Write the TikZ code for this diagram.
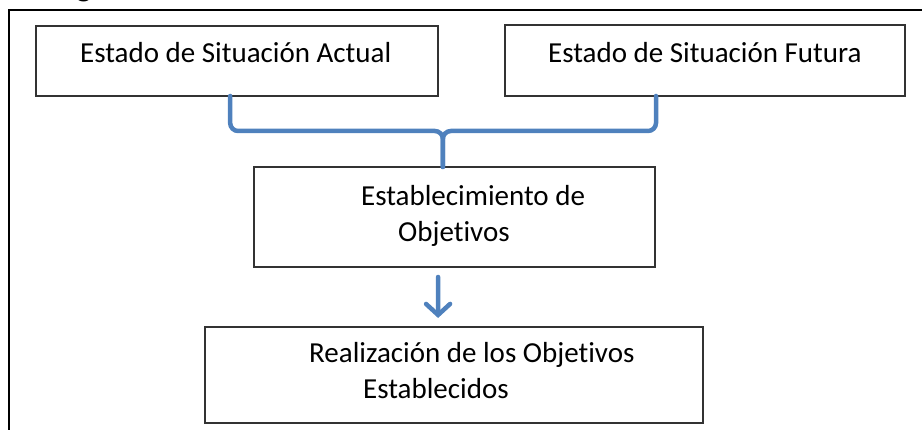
\documentclass[tikz,border=0pt]{standalone}
\usepackage{fontspec}
\setmainfont[Ligatures=NoCommon]{Carlito}
\usetikzlibrary{calc,arrows.meta}
\definecolor{azulllave}{HTML}{4F81BD}

\begin{document}
\begin{tikzpicture}[x=1pt,y=-1pt,
    caja/.style={draw=black!80, line width=1.4pt, inner sep=0pt, outer sep=0pt},
    texto/.style={anchor=base west, inner sep=0pt, font=\fontsize{29}{35}\selectfont},
    llave/.style={draw=azulllave, line width=4.5pt, rounded corners=8pt, line cap=round},
    flecha/.style={draw=azulllave, line width=4.5pt, line cap=round,
        -{Straight Barb[length=11pt,width=24pt,line cap=round]}}]
    \useasboundingbox (0,0) rectangle (922,430);

    % marco exterior
    \draw[line width=1.8pt] (9,440) -- (9,10) -- (930,10);
    \node[anchor=base, inner sep=0pt, font=\bfseries\fontsize{32}{32}\selectfont] (tfrag) at (84,-3) {g};

    % cajas
    \node[caja, minimum width=402pt, minimum height=70pt] (actual) at (237,61) {};
    \node[caja, minimum width=400pt, minimum height=71pt] (futura) at (705,60.5) {};
    \node[caja, minimum width=401pt, minimum height=100pt] (establec) at (454.5,217) {};
    \node[caja, minimum width=498pt, minimum height=96pt] (realiz) at (454,375) {};

    % textos
    \node[texto] (tActual) at (80,63) {Estado de Situación Actual};
    \node[texto] (tFutura) at (548,63) {Estado de Situación Futura};
    \node[texto] (tEstab1) at (361,206) {Establecimiento de};
    \node[texto] (tEstab2) at (398,242) {Objetivos};
    \node[texto] (tRealiz1) at (309,363) {Realización de los Objetivos};
    \node[texto] (tRealiz2) at (363,399) {Establecidos};

    % llave
    \coordinate (bL) at ($(actual.south west)!.483!(actual.south east)$);
    \coordinate (bR) at ($(futura.south west)!.3775!(futura.south east)$);
    \coordinate (bT) at ($(establec.north west)!.471!(establec.north east)$);
    \draw[llave] (bL) -- ++(0,35) -| (bT);
    \draw[llave] (bR) -- ++(0,35) -| (bT);

    % flecha
    \draw[flecha, shorten <=10pt, shorten >=9pt]
        ($(establec.south west)!.459!(establec.south east)$) --
        ($(realiz.north west)!.468!(realiz.north east)$);
\end{tikzpicture}
\end{document}
